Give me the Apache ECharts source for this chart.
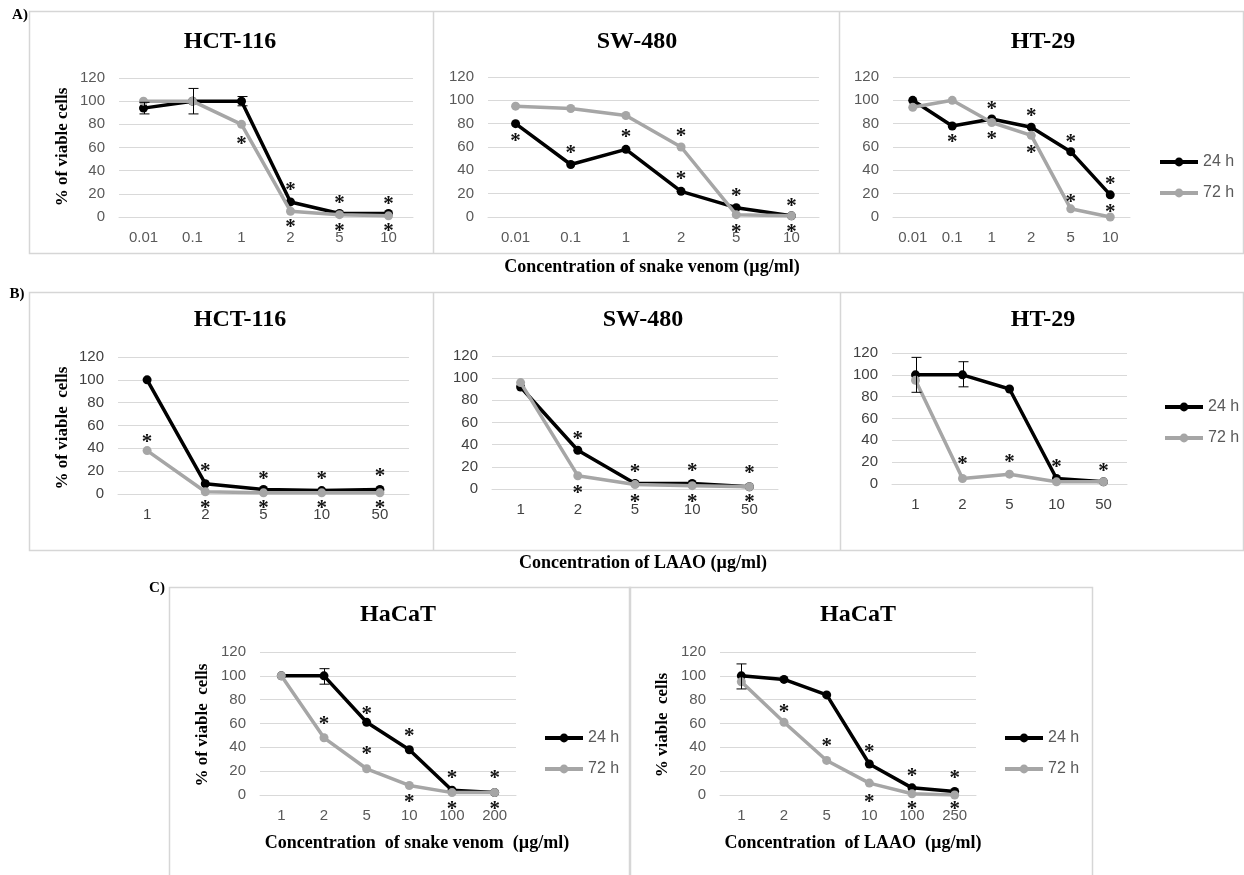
<!DOCTYPE html>
<html>
<head>
<meta charset="utf-8">
<script src="https://cdn.jsdelivr.net/npm/echarts@6/dist/echarts.min.js"></script>
<style>
  html, body { margin: 0; padding: 0; background: #fff; }
  #main { width: 1244px; height: 875px; }
</style>
</head>
<body>
<div id="main"></div>
<script>
// categories
var venomCats = ['0.01', '0.1', '1', '2', '5', '10'];
var laaoCats = ['1', '2', '5', '10', '50'];
var hacatVenomCats = ['1', '2', '5', '10', '100', '200'];
var hacatLaaoCats = ['1', '2', '5', '10', '100', '250'];
var yTicks = [0, 20, 40, 60, 80, 100, 120];

// A) snake venom
var a1_24 = [94, 100, 100, 13, 3, 3];
var a1_72 = [100, 100, 80, 5, 2, 1];
var a1_err = [[0, 89, 99], [1, 89, 111], [2, 96, 104]];
var a1_stars = [[2, 67], [3, 27], [3, -5], [4, 16], [4, -8], [5, 15], [5, -8]];

var a2_24 = [80, 45, 58, 22, 8, 1];
var a2_72 = [95, 93, 87, 60, 2, 1];
var a2_stars = [[0, 69], [1, 59], [2, 72], [3, 73], [3, 36], [4, 22], [4, -9], [5, 13], [5, -9]];

var a3_24 = [100, 78, 84, 77, 56, 19];
var a3_72 = [94, 100, 81, 70, 7, 0];
var a3_stars = [[1, 68], [2, 96], [2, 71], [3, 90], [3, 59], [4, 68], [4, 17], [5, 32], [5, 8]];

// B) LAAO
var b1_24 = [100, 9, 4, 3, 4];
var b1_72 = [38, 2, 1, 1, 1];
var b1_stars = [[0, 49], [1, 24], [1, -8], [2, 17], [2, -8], [3, 17], [3, -8], [4, 20], [4, -8]];

var b2_24 = [92, 35, 5, 5, 2];
var b2_72 = [96, 12, 4, 3, 2];
var b2_stars = [[1, 49], [1, 0], [2, 19], [2, -8], [3, 20], [3, -8], [4, 18], [4, -8]];

var b3_24 = [100, 100, 87, 5, 2];
var b3_72 = [95, 5, 9, 2, 2];
var b3_err = [[0, 84, 116], [1, 89, 112]];
var b3_stars = [[1, 22], [2, 24], [3, 20], [4, 16]];

// C) HaCaT
var c1_24 = [100, 100, 61, 38, 4, 2];
var c1_72 = [100, 48, 22, 8, 2, 2];
var c1_err = [[1, 93, 106]];
var c1_stars = [[1, 63], [2, 72], [2, 38], [3, 53], [3, -2], [4, 18], [4, -8], [5, 18], [5, -8]];

var c2_24 = [100, 97, 84, 26, 6, 3];
var c2_72 = [95, 61, 29, 10, 1, 0];
var c2_err = [[0, 89, 110]];
var c2_stars = [[1, 73], [2, 45], [3, 40], [3, -2], [4, 20], [4, -8], [5, 18], [5, -8]];

var panels = [
  { cats: venomCats, s24: a1_24, s72: a1_72, err: a1_err, stars: a1_stars, grid: [119, 78, 294, 139], lab: '#595959' },
  { cats: venomCats, s24: a2_24, s72: a2_72, err: [], stars: a2_stars, grid: [488, 77, 331, 140], lab: '#595959' },
  { cats: venomCats, s24: a3_24, s72: a3_72, err: [], stars: a3_stars, grid: [893, 77, 237, 140], lab: '#595959' },
  { cats: laaoCats, s24: b1_24, s72: b1_72, err: [], stars: b1_stars, grid: [118, 357, 291, 137], lab: '#404040' },
  { cats: laaoCats, s24: b2_24, s72: b2_72, err: [], stars: b2_stars, grid: [492, 356, 286, 133], lab: '#404040' },
  { cats: laaoCats, s24: b3_24, s72: b3_72, err: b3_err, stars: b3_stars, grid: [892, 353, 235, 131], lab: '#404040' },
  { cats: hacatVenomCats, s24: c1_24, s72: c1_72, err: c1_err, stars: c1_stars, grid: [260, 652, 256, 143], lab: '#595959' },
  { cats: hacatLaaoCats, s24: c2_24, s72: c2_72, err: c2_err, stars: c2_stars, grid: [720, 652, 256, 143], lab: '#595959' }
];

var grids = [], xAxes = [], yAxes = [], series = [];

panels.forEach(function (p, i) {
  grids.push({ left: p.grid[0], top: p.grid[1], width: p.grid[2], height: p.grid[3] });
  xAxes.push({
    type: 'category', gridIndex: i, data: p.cats, boundaryGap: true,
    axisLine: { lineStyle: { color: '#d9d9d9' } },
    axisTick: { show: false },
    axisLabel: { color: p.lab, fontSize: 15, fontFamily: 'Liberation Sans', margin: 13 }
  });
  yAxes.push({
    type: 'value', gridIndex: i, min: yTicks[0], max: yTicks[yTicks.length - 1], interval: 20,
    axisLine: { show: false }, axisTick: { show: false },
    splitLine: { lineStyle: { color: '#d9d9d9' } },
    axisLabel: { color: p.lab, fontSize: 15, fontFamily: 'Liberation Sans', margin: 14 }
  });
  series.push({
    name: '24 h', type: 'line', xAxisIndex: i, yAxisIndex: i, data: p.s24,
    symbol: 'circle', symbolSize: 9, color: '#000',
    lineStyle: { width: 3.5, color: '#000' }, itemStyle: { color: '#000' }, z: 3
  });
  series.push({
    name: '72 h', type: 'line', xAxisIndex: i, yAxisIndex: i, data: p.s72,
    symbol: 'circle', symbolSize: 9, color: '#a6a6a6',
    lineStyle: { width: 3.5, color: '#a6a6a6' }, itemStyle: { color: '#a6a6a6' }, z: 4
  });
  if (p.err.length) {
    series.push({
      type: 'custom', xAxisIndex: i, yAxisIndex: i, data: p.err, z: 6,
      encode: { x: 0, y: [1, 2] },
      renderItem: function (params, api) {
        var lo = api.coord([api.value(0), api.value(1)]);
        var hi = api.coord([api.value(0), api.value(2)]);
        var x = Math.round(lo[0]) + 0.5, w = 5;
        var st = { stroke: '#000', lineWidth: 1 };
        return { type: 'group', children: [
          { type: 'line', shape: { x1: x, y1: lo[1], x2: x, y2: hi[1] }, style: st },
          { type: 'line', shape: { x1: x - w, y1: lo[1], x2: x + w, y2: lo[1] }, style: st },
          { type: 'line', shape: { x1: x - w, y1: hi[1], x2: x + w, y2: hi[1] }, style: st }
        ] };
      }
    });
  }
  series.push({
    type: 'custom', xAxisIndex: i, yAxisIndex: i, data: p.stars, z: 8,
    renderItem: function (params, api) {
      var c = api.coord([api.value(0), api.value(1)]);
      return { type: 'text', x: c[0], y: c[1] + 5, style: {
        text: '*', fill: '#111', fontSize: 21, fontWeight: 'bold', fontFamily: 'Liberation Serif',
        textAlign: 'center', textVerticalAlign: 'middle'
      } };
    }
  });
});

function legendAt(left, top) {
  return {
    left: left, top: top, orient: 'vertical', padding: 0, itemGap: 15,
    itemWidth: 38, itemHeight: 11, data: ['24 h', '72 h'],
    lineStyle: { width: 4 },
    textStyle: { color: '#595959', fontSize: 16, fontFamily: 'Liberation Sans' }
  };
}

function txt(x, y, s, size, rot) {
  return {
    type: 'text', x: x, y: y, rotation: rot || 0,
    style: { text: s, fill: '#000', fontSize: size, fontWeight: 'bold', fontFamily: 'Liberation Serif',
      textAlign: 'center', textVerticalAlign: 'middle' }
  };
}
function box(x, y, w, h) {
  return { type: 'rect', shape: { x: x, y: y, width: w, height: h }, style: { fill: 'none', stroke: '#d6d6d6', lineWidth: 1.5 } };
}
function vline(x, y1, y2) {
  return { type: 'line', shape: { x1: x, y1: y1, x2: x, y2: y2 }, style: { stroke: '#d6d6d6', lineWidth: 1.5 } };
}

var graphics = [
  box(29.5, 11.5, 1214, 242), vline(433.5, 11.5, 253.5), vline(839.5, 11.5, 253.5),
  box(29.5, 292.5, 1214, 258), vline(433.5, 292.5, 550.5), vline(840.5, 292.5, 550.5),
  box(169.5, 587.5, 461, 300), box(629.5, 587.5, 463, 300),
  txt(20, 15, 'A)', 15), txt(17, 294, 'B)', 15), txt(157, 588, 'C)', 15),
  txt(230, 42, 'HCT-116', 24), txt(637, 42, 'SW-480', 24), txt(1043, 42, 'HT-29', 24),
  txt(240, 320, 'HCT-116', 24), txt(643, 320, 'SW-480', 24), txt(1043, 320, 'HT-29', 24),
  txt(398, 615, 'HaCaT', 24), txt(858, 615, 'HaCaT', 24),
  txt(63, 147, '% of viable cells', 17, Math.PI / 2),
  txt(63, 428, '% of viable  cells', 17, Math.PI / 2),
  txt(203, 725, '% of viable  cells', 17, Math.PI / 2),
  txt(663, 725, '% viable  cells', 17, Math.PI / 2),
  txt(652, 267, 'Concentration of snake venom (µg/ml)', 18),
  txt(643, 563, 'Concentration of LAAO (µg/ml)', 18),
  txt(417, 843, 'Concentration  of snake venom  (µg/ml)', 18),
  txt(853, 843, 'Concentration  of LAAO  (µg/ml)', 18)
];

var chart = echarts.init(document.getElementById('main'));
chart.setOption({
  backgroundColor: '#fff',
  animation: false,
  grid: grids,
  xAxis: xAxes,
  yAxis: yAxes,
  legend: [legendAt(1158, 154), legendAt(1163, 399), legendAt(543, 730), legendAt(1003, 730)],
  graphic: graphics,
  series: series
});
</script>
</body>
</html>
